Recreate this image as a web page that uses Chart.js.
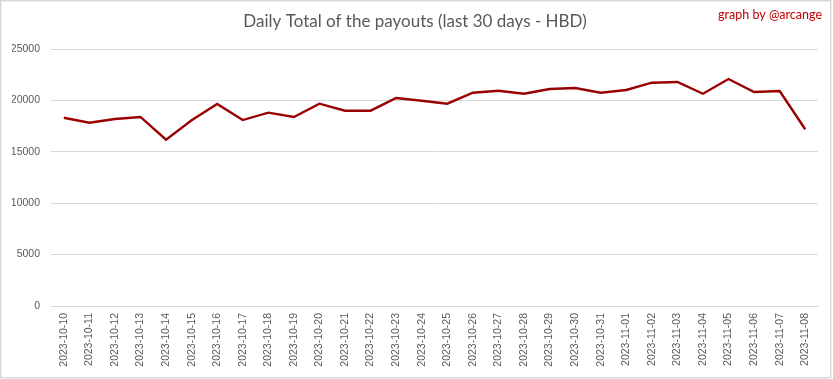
<!DOCTYPE html>
<html>
<head>
<meta charset="utf-8">
<script src="https://cdn.jsdelivr.net/npm/chart.js@4/dist/chart.umd.min.js"></script>
<style>
  html, body { margin: 0; padding: 0; background: #fff; }
  #wrap { width: 833px; height: 379px; }
</style>
</head>
<body>
<div id="wrap"><canvas id="c" width="833" height="379"></canvas></div>
<script>
const categories = [
  "2023-10-10","2023-10-11","2023-10-12","2023-10-13","2023-10-14","2023-10-15",
  "2023-10-16","2023-10-17","2023-10-18","2023-10-19","2023-10-20","2023-10-21",
  "2023-10-22","2023-10-23","2023-10-24","2023-10-25","2023-10-26","2023-10-27",
  "2023-10-28","2023-10-29","2023-10-30","2023-10-31","2023-11-01","2023-11-02",
  "2023-11-03","2023-11-04","2023-11-05","2023-11-06","2023-11-07","2023-11-08"
];
const payoutsHBD = [
  18310, 17830, 18190, 18390, 16180, 18060,
  19650, 18090, 18810, 18390, 19680, 19000,
  19000, 20230, 19970, 19680, 20750, 20940,
  20650, 21110, 21200, 20750, 21010, 21720,
  21790, 20650, 22080, 20820, 20910, 17190
];
const yTicks = { min: 0, max: 25000, step: 5000 };
const titleText = "Daily Total of the payouts (last 30 days - HBD)";
const creditText = "graph by @arcange";

const framePlugin = {
  id: 'frame',
  beforeDraw(chart) {
    const ctx = chart.ctx;
    ctx.save();
    ctx.fillStyle = '#ffffff';
    ctx.fillRect(0, 0, chart.width, chart.height);
    ctx.restore();
  },
  afterDraw(chart) {
    const ctx = chart.ctx;
    ctx.save();
    ctx.strokeStyle = '#d9d9d9';
    ctx.lineWidth = 1.5;
    ctx.strokeRect(0.75, 0.75, 830, 377);
    ctx.fillStyle = '#c00000';
    ctx.font = '12.5px Lato, "Liberation Sans", sans-serif';
    ctx.textAlign = 'right';
    ctx.textBaseline = 'middle';
    ctx.fillText(creditText, 822, 15);
    ctx.restore();
  }
};

new Chart(document.getElementById('c'), {
  type: 'line',
  data: {
    labels: categories,
    datasets: [{
      data: payoutsHBD,
      borderColor: '#9a0000',
      backgroundColor: '#9a0000',
      borderWidth: 2.4,
      pointRadius: 0,
      tension: 0,
      fill: false
    }]
  },
  options: {
    responsive: false,
    animation: false,
    layout: { padding: { left: 12, right: 15, top: 0, bottom: 0 } },
    plugins: {
      legend: { display: false },
      tooltip: { enabled: false },
      title: {
        display: true,
        text: titleText,
        color: '#595959',
        font: { family: 'Lato, "Liberation Sans", sans-serif', size: 17, weight: 'normal', lineHeight: 1.2 },
        padding: { top: 11, bottom: 17.6 }
      }
    },
    scales: {
      x: {
        offset: true,
        grid: { display: false, drawTicks: false },
        border: { display: true, color: '#d9d9d9', width: 1 },
        ticks: {
          color: '#595959',
          font: { family: '"Liberation Sans", sans-serif', size: 10.5 },
          minRotation: 90,
          maxRotation: 90,
          autoSkip: false,
          padding: 7
        },
        afterFit(s) { s.height = 73; }
      },
      y: {
        min: yTicks.min,
        max: yTicks.max,
        grid: { color: '#d9d9d9', drawTicks: false, lineWidth: 1 },
        border: { display: false },
        ticks: {
          stepSize: yTicks.step,
          color: '#595959',
          font: { family: '"Liberation Sans", sans-serif', size: 10.5 },
          padding: 11,
          callback: (v) => String(v)
        },
        afterFit(s) { s.width = 39; }
      }
    }
  },
  plugins: [framePlugin]
});
</script>
</body>
</html>
